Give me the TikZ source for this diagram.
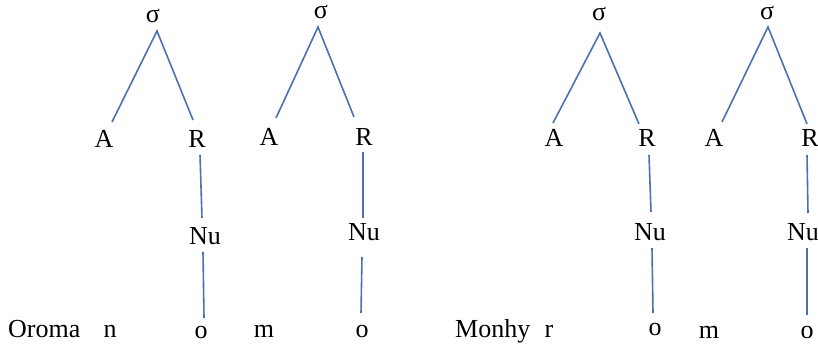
\documentclass[tikz,border=0pt]{standalone}
\usepackage{fontspec}
\setmainfont{Liberation Serif}
\usetikzlibrary{calc}
\definecolor{branch}{RGB}{74,114,176}
\begin{document}
\begin{tikzpicture}[x=1pt,y=-1pt,
  lab/.style={inner sep=0pt,anchor=base,font=\fontsize{26}{30}\selectfont},
  word/.style={inner sep=0pt,anchor=base west,font=\fontsize{26}{30}\selectfont},
  br/.style={draw=branch,line width=1.6pt}]
\useasboundingbox[fill=white] (0,0) rectangle (818,344);
% tree 1
\node[lab] (s1) at (153,23) {σ};
\node[lab] (A1) at (104,148) {A};
\node[lab] (R1) at (197,148) {R};
\node[lab] (N1) at (205,245) {Nu};
\node[lab] (o1) at (201,338) {o};
\draw[br] ($(A1.base)+(8,-26)$) -- ($(s1.base)+(4,8)$) -- ($(R1.base)+(-4,-28)$);
\draw[br] ($(R1.base)+(3,7)$) -- ($(N1.base)+(-3,-27)$);
\draw[br] ($(N1.base)+(-2,7)$) -- ($(o1.base)+(3,-20)$);
% tree 2
\node[lab] (s2) at (321,19) {σ};
\node[lab] (A2) at (269,146) {A};
\node[lab] (R2) at (364,146) {R};
\node[lab] (N2) at (364,241) {Nu};
\node[lab] (o2) at (362,337) {o};
\draw[br] ($(A2.base)+(7,-28)$) -- ($(s2.base)+(-3,8)$) -- ($(R2.base)+(-10,-29)$);
\draw[br] ($(R2.base)+(-1,6)$) -- ($(N2.base)+(-1,-23)$);
\draw[br] ($(N2.base)+(-2,16)$) -- ($(o2.base)+(-1,-24)$);
% tree 3
\node[lab] (s3) at (599,21) {σ};
\node[lab] (A3) at (554,147) {A};
\node[lab] (R3) at (647,147) {R};
\node[lab] (N3) at (650,241) {Nu};
\node[lab] (o3) at (655,335) {o};
\draw[br] ($(A3.base)+(-1,-24)$) -- ($(s3.base)+(1,12)$) -- ($(R3.base)+(-8,-23)$);
\draw[br] ($(R3.base)+(2,8)$) -- ($(N3.base)+(1,-29)$);
\draw[br] ($(N3.base)+(2,7)$) -- ($(o3.base)+(-2,-22)$);
% tree 4
\node[lab] (s4) at (767,20) {σ};
\node[lab] (A4) at (714,147) {A};
\node[lab] (R4) at (810,147) {R};
\node[lab] (N4) at (803,241) {Nu};
\node[lab] (o4) at (807,338) {o};
\draw[br] ($(A4.base)+(8,-25)$) -- ($(s4.base)+(1,7)$) -- ($(R4.base)+(-3,-23)$);
\draw[br] ($(R4.base)+(-3,8)$) -- ($(N4.base)+(5,-28)$);
\draw[br] ($(N4.base)+(4,7)$) -- ($(o4.base)+(0,-23)$);
% bottom words
\node[word] (w1) at (8,337) {Oroma};
\node[lab] (n1) at (110,337) {n};
\node[lab] (m2) at (264,337) {m};
\node[word] (w2) at (455,337) {Monhy};
\node[lab] (r3) at (549,337) {r};
\node[lab] (m4) at (709,338) {m};
\end{tikzpicture}
\end{document}
